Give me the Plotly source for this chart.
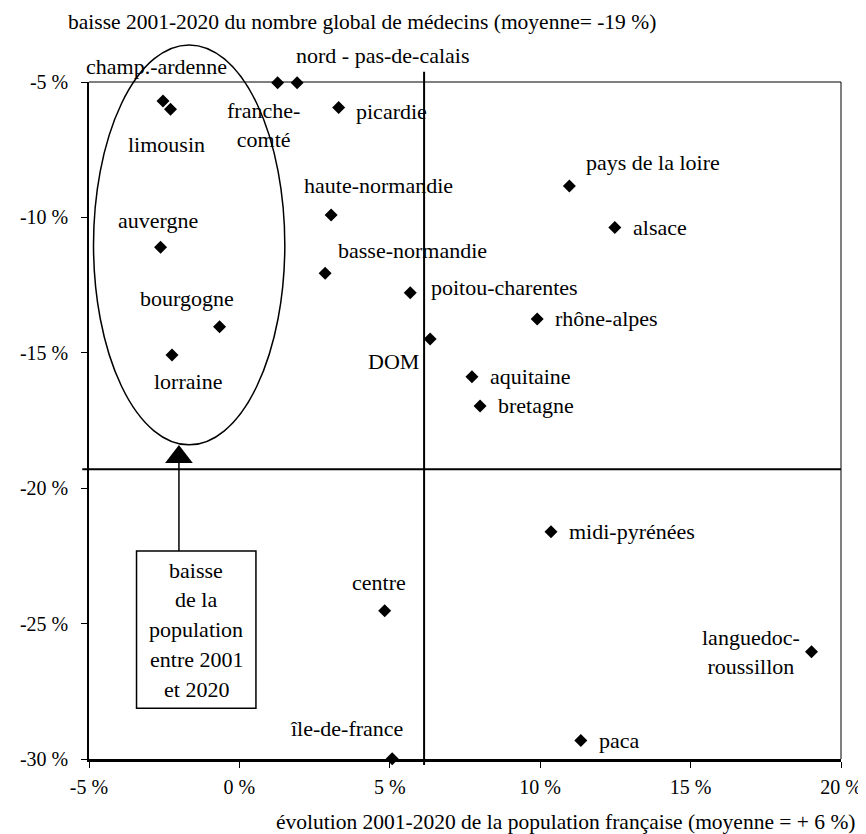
import plotly.graph_objects as go

# ---------------- data ----------------
regions = ["champ.-ardenne", "limousin", "franche-comté", "nord - pas-de-calais",
           "picardie", "haute-normandie", "basse-normandie", "auvergne", "bourgogne",
           "lorraine", "poitou-charentes", "rhône-alpes", "DOM", "aquitaine",
           "bretagne", "pays de la loire", "alsace", "midi-pyrénées",
           "languedoc-roussillon", "centre", "île-de-france", "paca"]
label_texts = ["champ.-ardenne", "limousin", "franche-<br>comté", "nord - pas-de-calais",
               "picardie", "haute-normandie", "basse-normandie", "auvergne", "bourgogne",
               "lorraine", "poitou-charentes", "rhône-alpes", "DOM", "aquitaine",
               "bretagne", "pays de la loire", "alsace", "midi-pyrénées",
               "languedoc-<br>roussillon", "centre", "île-de-france", "paca"]
pop_change = [-2.54, -2.29, 1.27, 1.92, 3.30, 3.05, 2.85, -2.62, -0.66, -2.24,
              5.68, 9.90, 6.34, 7.73, 8.00, 10.97, 12.48, 10.36, 19.02, 4.83, 5.08, 11.35]
doctor_change = [-5.70, -6.01, -5.03, -5.03, -5.94, -9.91, -12.06, -11.10, -14.04, -15.08,
                 -12.78, -13.75, -14.49, -15.88, -16.96, -8.84, -10.37, -21.61, -26.04,
                 -24.53, -29.99, -29.32]
mean_pop = 6.14
mean_doc = -19.3

x_ticks = [-5, 0, 5, 10, 15, 20]
x_tick_labels = ["-5 %", "0 %", "5 %", "10 %", "15 %", "20 %"]
y_ticks = [-30, -25, -20, -15, -10, -5]
y_tick_labels = ["-30 %", "-25 %", "-20 %", "-15 %", "-10 %", "-5 %"]

x_title = "évolution 2001-2020 de la population française (moyenne = + 6 %)"
y_title = "baisse 2001-2020 du nombre global de médecins (moyenne= -19 %)"
box_lines = ["baisse", "de la", "population", "entre 2001", "et 2020"]

# ---------------- styling ----------------
FONT = "Liberation Serif"
FS = 22
TITLE_FS = 21.5
TICK_FS = 20
X_MIN, X_MAX = -5, 20
Y_MIN, Y_MAX = -30, -5

# label placement: (xanchor, xshift px, yshift px)
label_pos = {
    "champ.-ardenne": ("center", -7, 34),
    "limousin": ("center", -4, -35),
    "franche-comté": ("center", -14, -42),
    "nord - pas-de-calais": ("center", 85, 27),
    "picardie": ("left", 15, -4),
    "haute-normandie": ("center", 47, 29),
    "basse-normandie": ("center", 87, 23),
    "auvergne": ("center", -3, 27),
    "bourgogne": ("center", -33, 28),
    "lorraine": ("center", 16, -27),
    "poitou-charentes": ("left", 19, 5),
    "rhône-alpes": ("left", 16, 0),
    "DOM": ("right", -9, -23),
    "aquitaine": ("left", 16, 0),
    "bretagne": ("left", 16, 0),
    "pays de la loire": ("center", 84, 23),
    "alsace": ("left", 16, 0),
    "midi-pyrénées": ("left", 16, 0),
    "languedoc-roussillon": ("right", -10, 0),
    "centre": ("center", -6, 28),
    "île-de-france": ("right", 13, 30),
    "paca": ("left", 16, 0),
}

# callout geometry (data units)
ellipse = dict(x0=-4.85, x1=1.51, y0=-18.40, y1=-3.63)
box = dict(x0=-3.42, x1=0.55, y0=-28.13, y1=-22.32)
arrow_x = -2.01
arrow_head_y = -18.85


def py(v):
    return (v - Y_MIN) / (Y_MAX - Y_MIN)


fig = go.Figure()

fig.add_trace(go.Scatter(
    x=pop_change, y=doctor_change, mode="markers",
    marker=dict(symbol="diamond", size=10, color="black"),
    cliponaxis=False, hoverinfo="text", text=regions, showlegend=False,
))

# arrow head
fig.add_trace(go.Scatter(
    x=[arrow_x], y=[arrow_head_y], mode="markers",
    marker=dict(symbol="triangle-up", size=24, color="black"),
    cliponaxis=False, hoverinfo="skip", showlegend=False,
))

shapes = []
# reference lines
shapes.append(dict(type="line", xref="x", yref="paper", x0=mean_pop, x1=mean_pop,
                   y0=-0.009, y1=1.015, line=dict(color="black", width=2)))
shapes.append(dict(type="line", xref="paper", yref="y", x0=-0.009, x1=1,
                   y0=mean_doc, y1=mean_doc, line=dict(color="black", width=2)))
# top & right frame
shapes.append(dict(type="line", xref="paper", yref="paper", x0=0, x1=1, y0=1, y1=1,
                   line=dict(color="black", width=1)))
shapes.append(dict(type="line", xref="paper", yref="paper", x0=1, x1=1, y0=0, y1=1,
                   line=dict(color="black", width=1)))
# ellipse
shapes.append(dict(type="circle", xref="x", yref="paper",
                   x0=ellipse["x0"], x1=ellipse["x1"],
                   y0=py(ellipse["y0"]), y1=py(ellipse["y1"]),
                   line=dict(color="black", width=1.5)))
# arrow stem
shapes.append(dict(type="line", xref="x", yref="y", x0=arrow_x, x1=arrow_x,
                   y0=box["y1"], y1=arrow_head_y - 0.2, line=dict(color="black", width=1.5)))
# text box
shapes.append(dict(type="rect", xref="x", yref="y", x0=box["x0"], x1=box["x1"],
                   y0=box["y0"], y1=box["y1"], fillcolor="white",
                   line=dict(color="black", width=1.5)))

annotations = []
for name, txt, xv, yv in zip(regions, label_texts, pop_change, doctor_change):
    anc, dx, dy = label_pos[name]
    annotations.append(dict(x=xv, y=yv, xref="x", yref="y", text=txt, showarrow=False,
                            xanchor=anc, yanchor="middle", xshift=dx, yshift=dy,
                            font=dict(family=FONT, size=FS, color="black")))

bx = (box["x0"] + box["x1"]) / 2
by = (box["y0"] + box["y1"]) / 2
for i, line in enumerate(box_lines):
    annotations.append(dict(x=bx, y=by, xref="x", yref="y", text=line, showarrow=False,
                            xanchor="center", yanchor="middle",
                            yshift=(2 - i) * 29.8,
                            font=dict(family=FONT, size=FS, color="black")))

annotations.append(dict(x=-0.03, y=1, xref="paper", yref="paper", text=y_title,
                        showarrow=False, xanchor="left", yanchor="middle", yshift=60,
                        font=dict(family=FONT, size=TITLE_FS, color="black")))
annotations.append(dict(x=1.022, y=0, xref="paper", yref="paper", text=x_title,
                        showarrow=False, xanchor="right", yanchor="middle", yshift=-63,
                        font=dict(family=FONT, size=TITLE_FS, color="black")))

fig.update_layout(
    width=866, height=834,
    margin=dict(l=74, r=32, t=74, b=83),
    paper_bgcolor="white", plot_bgcolor="white",
    shapes=shapes, annotations=annotations,
    font=dict(family=FONT, size=FS, color="black"),
    xaxis=dict(range=[X_MIN, X_MAX], tickvals=x_ticks, ticktext=x_tick_labels,
               showgrid=False, zeroline=False, showline=True, linecolor="black",
               linewidth=2.5, ticks="outside", ticklen=6, tickcolor="black",
               ticklabelstandoff=2, fixedrange=True,
               tickfont=dict(family=FONT, size=TICK_FS, color="black")),
    yaxis=dict(range=[Y_MIN, Y_MAX], tickvals=y_ticks, ticktext=y_tick_labels,
               showgrid=False, zeroline=False, showline=True, linecolor="black",
               linewidth=1.5, ticks="outside", ticklen=6, tickcolor="black",
               ticklabelstandoff=9, fixedrange=True,
               tickfont=dict(family=FONT, size=TICK_FS, color="black")),
)

fig.write_html("out.html")
